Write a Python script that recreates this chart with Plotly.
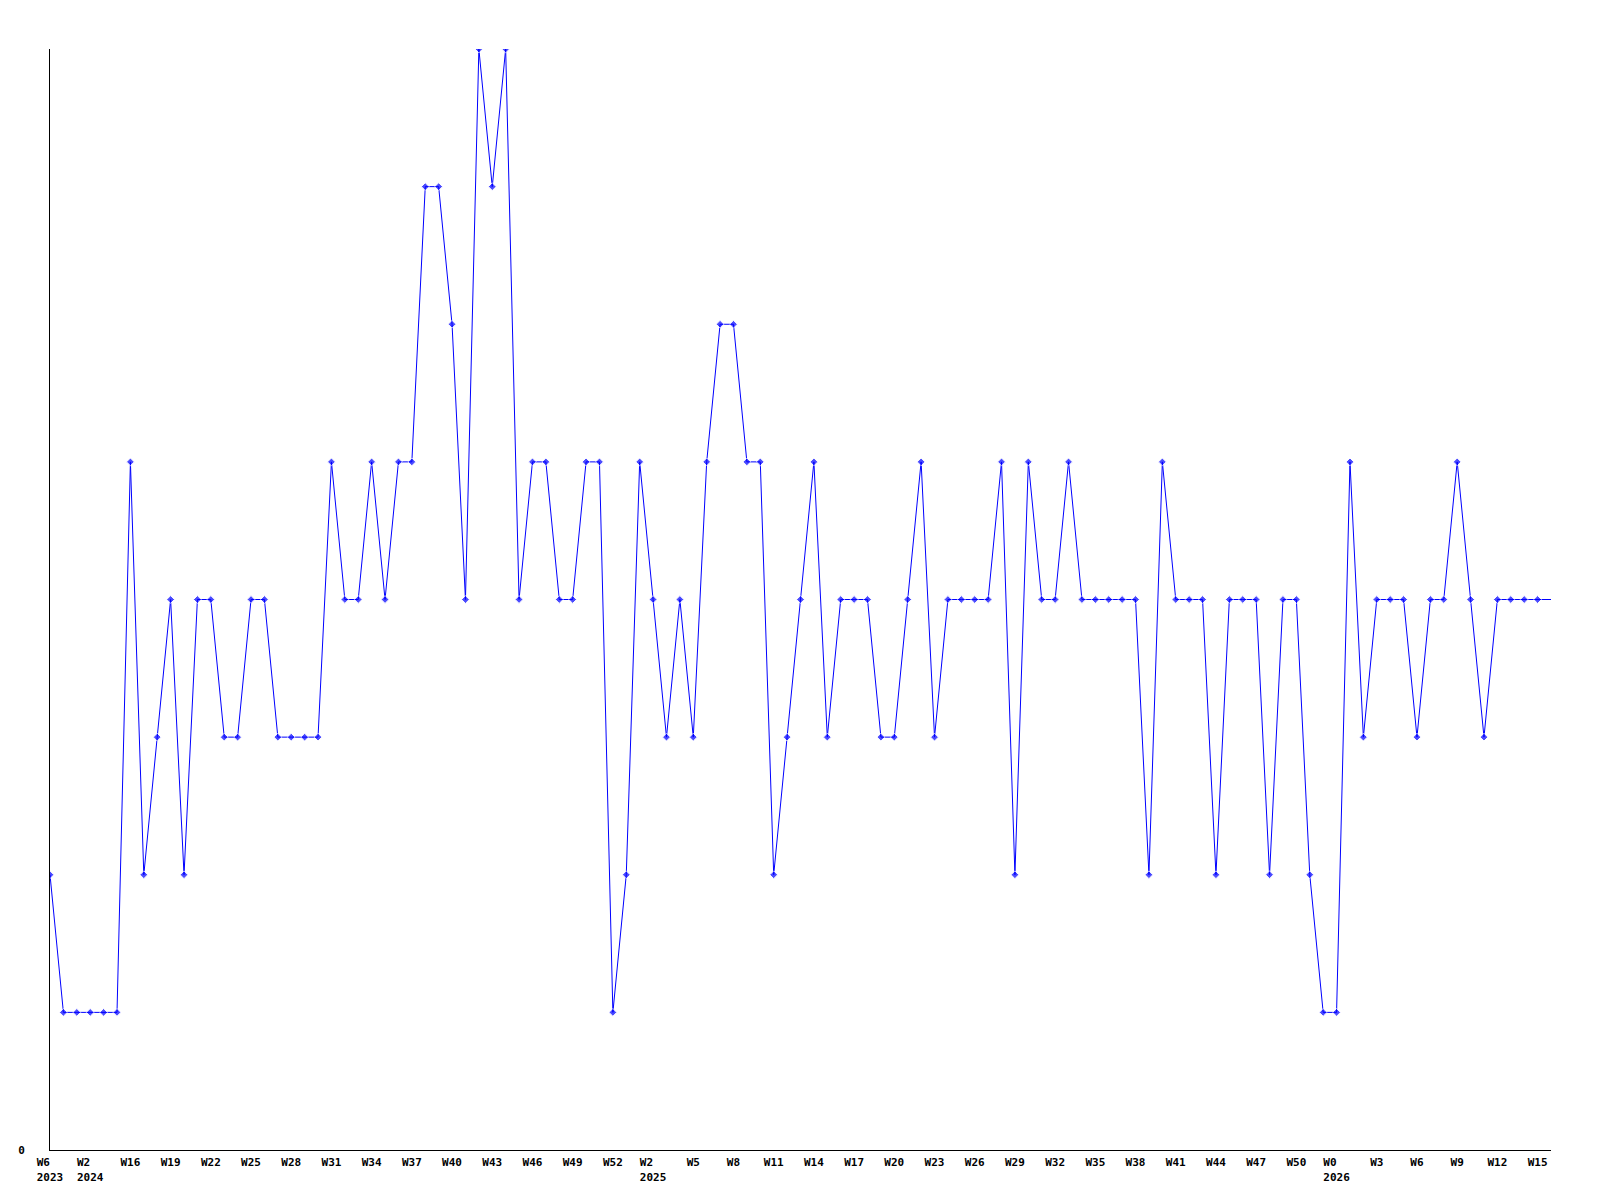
import plotly.graph_objects as go

values = [2, 1, 1, 1, 1, 1, 5, 2, 3, 4,
          2, 4, 4, 3, 3, 4, 4, 3, 3, 3,
          3, 5, 4, 4, 5, 4, 5, 5, 7, 7,
          6, 4, 8, 7, 8, 4, 5, 5, 4, 4,
          5, 5, 1, 2, 5, 4, 3, 4, 3, 5,
          6, 6, 5, 5, 2, 3, 4, 5, 3, 4,
          4, 4, 3, 3, 4, 5, 3, 4, 4, 4,
          4, 5, 2, 5, 4, 4, 5, 4, 4, 4,
          4, 4, 2, 5, 4, 4, 4, 2, 4, 4,
          4, 2, 4, 4, 2, 1, 1, 5, 3, 4,
          4, 4, 3, 4, 4, 5, 4, 3, 4, 4,
          4, 4, 4]

week_labels = ["W6", "W2", "W16", "W19", "W22", "W25", "W28", "W31", "W34", "W37",
               "W40", "W43", "W46", "W49", "W52", "W2", "W5", "W8", "W11", "W14",
               "W17", "W20", "W23", "W26", "W29", "W32", "W35", "W38", "W41", "W44",
               "W47", "W50", "W0", "W3", "W6", "W9", "W12", "W15"]
year_labels = {0: "2023", 1: "2024", 15: "2025", 32: "2026"}

x = list(range(len(values)))
tickvals = [i * 3 for i in range(len(week_labels))]
ticktext = []
for i, w in enumerate(week_labels):
    if i in year_labels:
        y = year_labels[i]
        ticktext.append(w + "\u00a0" * (len(y) - len(w)) + "<br>" + y)
    else:
        ticktext.append(w)

marker_sizes = [6] * (len(values) - 1) + [0]

fig = go.Figure(go.Scatter(
    x=x, y=values, mode="lines+markers",
    line=dict(color="#0000ff", width=1),
    marker=dict(symbol="diamond", size=marker_sizes, color="#0000ff"),
    hoverinfo="skip",
))

font = dict(family="DejaVu Sans Mono", size=11, color="#000000", weight="bold")
fig.update_layout(
    width=1584, height=1184,
    margin=dict(l=42, r=41, t=41, b=42, autoexpand=False),
    paper_bgcolor="white", plot_bgcolor="white",
    showlegend=False,
    xaxis=dict(range=[0, len(values) - 1], tickvals=tickvals, ticktext=ticktext,
               showgrid=False, zeroline=False, showline=True, linecolor="#000000",
               linewidth=1, ticks="", tickfont=font, tickangle=0, automargin=False,
               ticklabelstandoff=2),
    yaxis=dict(range=[0, 8], tickvals=[0], ticktext=["0"], showgrid=False,
               zeroline=False, showline=True, linecolor="#000000", linewidth=1,
               ticks="", tickfont=font, ticklabelstandoff=22, automargin=False),
)

fig.write_html("out.html")
